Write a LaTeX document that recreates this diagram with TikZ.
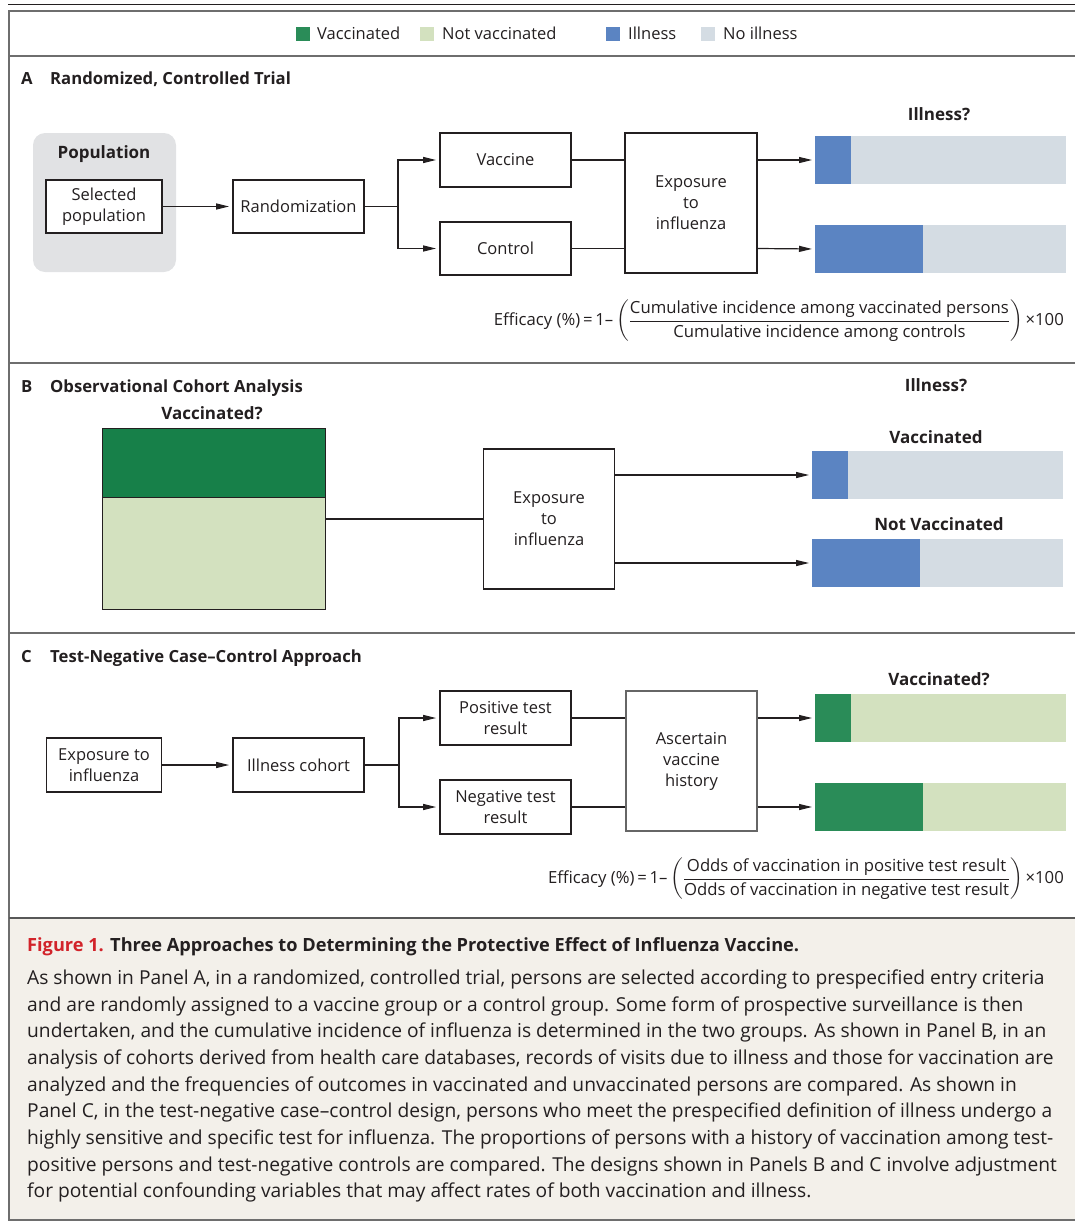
\documentclass[tikz,border=0pt]{standalone}
\usepackage{amsmath}
\usepackage{fontspec}
\setmainfont{Open Sans}
\usetikzlibrary{arrows.meta,calc}
\definecolor{dkgreen}{HTML}{2A8C58}
\definecolor{dkgreenB}{HTML}{178049}
\definecolor{ltgreen}{HTML}{D3E1BF}
\definecolor{illblue}{HTML}{5B84C2}
\definecolor{noill}{HTML}{D4DCE3}
\definecolor{popgray}{HTML}{E1E2E4}
\definecolor{capbg}{HTML}{F3F0EA}
\definecolor{figred}{HTML}{D2232A}
\definecolor{framegray}{HTML}{6E6E6E}
\definecolor{ink}{HTML}{231F20}
\newcommand{\fsz}[2]{\fontsize{#1}{#2}\selectfont}
\begin{document}
\begin{tikzpicture}[x=1pt,y=-1pt,
  box/.style={draw=ink, line width=1.7pt, fill=white, inner sep=0pt, align=center,
    font=\fsz{16.5}{21}, text=ink},
  graybox/.style={box, draw=gray!80!black, line width=1.3pt},
  conn/.style={draw=ink, line width=1.2pt},
  arr/.style={conn, -{Triangle[length=13pt,width=6pt]}, shorten >=3pt},
  barnode/.style={inner sep=0pt, outer sep=0pt, anchor=north west, minimum width=251pt, minimum height=48pt},
  lbl/.style={font=\fsz{17}{20}\bfseries, text=ink, inner sep=0pt},
  ptitle/.style={font=\fsz{16.7}{20}\bfseries, text=ink, inner sep=0pt, anchor=base west},
  legtext/.style={font=\fsz{16.5}{20}, text=ink, inner sep=0pt, anchor=west},
  legsq/.style={inner sep=0pt, minimum size=14pt, anchor=west},
  frm/.style={draw=framegray, line width=1.6pt},
  formula/.style={font=\fsz{16.7}{20}, text=ink, inner sep=0pt, anchor=east}
]
\useasboundingbox (0,0) rectangle (1075,1221);
% caption background and frame
\fill[capbg] (9,918) rectangle (1075,1220);
\draw[ink, line width=1pt] (8,4) -- (1075,4);
\draw[frm] (1075,11) -- (9,11) -- (9,1220) -- (1075,1220);
\draw[frm] (9,56) -- (1075,56);
\draw[frm] (9,363) -- (1075,363);
\draw[frm] (9,633) -- (1075,633);
\draw[draw=framegray!80!black, line width=2.2pt] (9,918) -- (1075,918);

% legend
\node[legsq, fill=dkgreen] (lg1) at (296,33.5) {};
\node[legtext] (lt1) at (317,33.5) {Vaccinated};
\node[legsq, fill=ltgreen] (lg2) at (420,33.5) {};
\node[legtext] (lt2) at (442,33.5) {Not vaccinated};
\node[legsq, fill=illblue] (lg3) at (606,33.5) {};
\node[legtext] (lt3) at (628,33.5) {Illness};
\node[legsq, fill=noill] (lg4) at (701,33.5) {};
\node[legtext] (lt4) at (723,33.5) {No illness};

% ===== Panel A =====
\node[ptitle] (tA) at (21,84) {A};
\node[ptitle] (tAt) at (50,84) {Randomized, Controlled Trial};
\node[fill=popgray, rounded corners=12pt, minimum width=143pt, minimum height=139pt, inner sep=0pt] (pop) at (104.5,202.5) {};
\node[lbl] (poplab) at (104,154) {Population};
\node[box, minimum width=116pt, minimum height=53pt] (sel) at (104,206.5) {Selected\\population};
\node[box, minimum width=131pt, minimum height=53pt] (rand) at (298.5,206.5) {Randomization};
\node[box, minimum width=131pt, minimum height=54pt] (vac) at (505.5,160) {Vaccine};
\node[box, minimum width=131pt, minimum height=53pt] (ctl) at (505.5,248.5) {Control};
\node[box, minimum width=132pt, minimum height=140pt] (expA) at (691,203) {Exposure\\to\\influenza};
\node[barnode, fill=noill] (barA1) at (815,136) {};
\fill[illblue] (barA1.north west) rectangle ++(36,48);
\node[barnode, fill=noill] (barA2) at (815,225) {};
\fill[illblue] (barA2.north west) rectangle ++(108,48);
\node[lbl] (illA) at (939,114) {Illness?};
\coordinate (brA) at (398,206.5);
\draw[arr] (sel.east) -- (rand.west);
\draw[conn] (rand.east) -- (brA);
\draw[arr] (brA) |- (vac.west);
\draw[arr] (brA) |- (ctl.west);
\draw[conn] (vac.east) -- (vac.east -| expA.west);
\draw[conn] (ctl.east) -- (ctl.east -| expA.west);
\draw[arr] (expA.east |- vac.east) -- (barA1.west);
\draw[arr] (expA.east |- ctl.east) -- (barA2.west);
\node[formula] (fA) at (1064,321) {Efficacy (\%)\,=\,1–\,$\left(\genfrac{}{}{0.8pt}{0}{\text{Cumulative incidence among vaccinated persons}}{\text{Cumulative incidence among controls}}\right)$\,×100};

% ===== Panel B =====
\node[ptitle] (tB) at (21,392) {B};
\node[ptitle] (tBt) at (50,392) {Observational Cohort Analysis};
\node[lbl] (vacq) at (212,413) {Vaccinated?};
\node[draw=ink, line width=1pt, fill=dkgreenB, inner sep=0pt, anchor=north west, minimum width=223pt, minimum height=69pt] (vtop) at (102,428) {};
\node[draw=ink, line width=1pt, fill=ltgreen, inner sep=0pt, anchor=north west, minimum width=223pt, minimum height=112pt] (vbot) at (102,497) {};
\node[box, minimum width=131pt, minimum height=140pt] (expB) at (549,519) {Exposure\\to\\influenza};
\draw[conn] (vbot.east |- expB.west) -- (expB.west);
\node[barnode, fill=noill] (barB1) at (812,451) {};
\fill[illblue] (barB1.north west) rectangle ++(36,48);
\node[barnode, fill=noill] (barB2) at (812,539) {};
\fill[illblue] (barB2.north west) rectangle ++(108,48);
\coordinate (bB1) at (614.5,475);
\coordinate (bB2) at (614.5,563);
\draw[arr] (bB1) -- (bB1 -| barB1.west);
\draw[arr] (bB2) -- (bB2 -| barB2.west);
\node[lbl] (illB) at (936,385) {Illness?};
\node[lbl] (vB) at (936,437) {Vaccinated};
\node[lbl] (nvB) at (939,524) {Not Vaccinated};

% ===== Panel C =====
\node[ptitle] (tC) at (21,662) {C};
\node[ptitle] (tCt) at (50,662) {Test-Negative Case–Control Approach};
\node[box, minimum width=115pt, minimum height=54pt] (expC) at (104,765) {Exposure to\\influenza};
\node[box, minimum width=131pt, minimum height=54pt] (coh) at (298.5,765) {Illness cohort};
\node[box, minimum width=131pt, minimum height=54pt] (pos) at (505.5,718) {Positive test\\result};
\node[box, minimum width=131pt, minimum height=54pt] (neg) at (505.5,807) {Negative test\\result};
\node[graybox, minimum width=131pt, minimum height=140pt] (asc) at (691.5,761) {Ascertain\\vaccine\\history};
\node[barnode, fill=ltgreen] (barC1) at (815,694) {};
\fill[dkgreen] (barC1.north west) rectangle ++(36,48);
\node[barnode, fill=ltgreen] (barC2) at (815,783) {};
\fill[dkgreen] (barC2.north west) rectangle ++(108,48);
\node[lbl] (vacC) at (939,679) {Vaccinated?};
\coordinate (brC) at (399,765);
\draw[arr] (expC.east) -- (coh.west);
\draw[conn] (coh.east) -- (brC);
\draw[arr] (brC) |- (pos.west);
\draw[arr] (brC) |- (neg.west);
\draw[conn] (pos.east) -- (pos.east -| asc.west);
\draw[conn] (neg.east) -- (neg.east -| asc.west);
\draw[arr] (asc.east |- pos.east) -- (barC1.west);
\draw[arr] (asc.east |- neg.east) -- (barC2.west);
\node[formula] (fC) at (1064,879) {Efficacy (\%)\,=\,1–\,$\left(\genfrac{}{}{0.8pt}{0}{\text{Odds of vaccination in positive test result}}{\text{Odds of vaccination in negative test result}}\right)$\,×100};

% ===== Caption =====
\node[inner sep=0pt, anchor=base west, font=\fsz{18.2}{20}\bfseries, text=ink] (capT) at (27,951)
  {\textcolor{figred}{Figure 1.} Three Approaches to Determining the Protective Effect of Influenza Vaccine.};
\node[inner sep=0pt, anchor=north west, align=left, font=\fsz{19.2}{26.67}, text=ink] (capB) at (27,969.5)
  {As shown in Panel A, in a randomized, controlled trial, persons are selected according to prespecified entry criteria\\
and are randomly assigned to a vaccine group or a control group. Some form of prospective surveillance is then\\
undertaken, and the cumulative incidence of influenza is determined in the two groups. As shown in Panel B, in an\\
analysis of cohorts derived from health care databases, records of visits due to illness and those for vaccination are\\
analyzed and the frequencies of outcomes in vaccinated and unvaccinated persons are compared. As shown in\\
Panel C, in the test-negative case–control design, persons who meet the prespecified definition of illness undergo a\\
highly sensitive and specific test for influenza. The proportions of persons with a history of vaccination among test-\\
positive persons and test-negative controls are compared. The designs shown in Panels B and C involve adjustment\\
for potential confounding variables that may affect rates of both vaccination and illness.};
\end{tikzpicture}
\end{document}
